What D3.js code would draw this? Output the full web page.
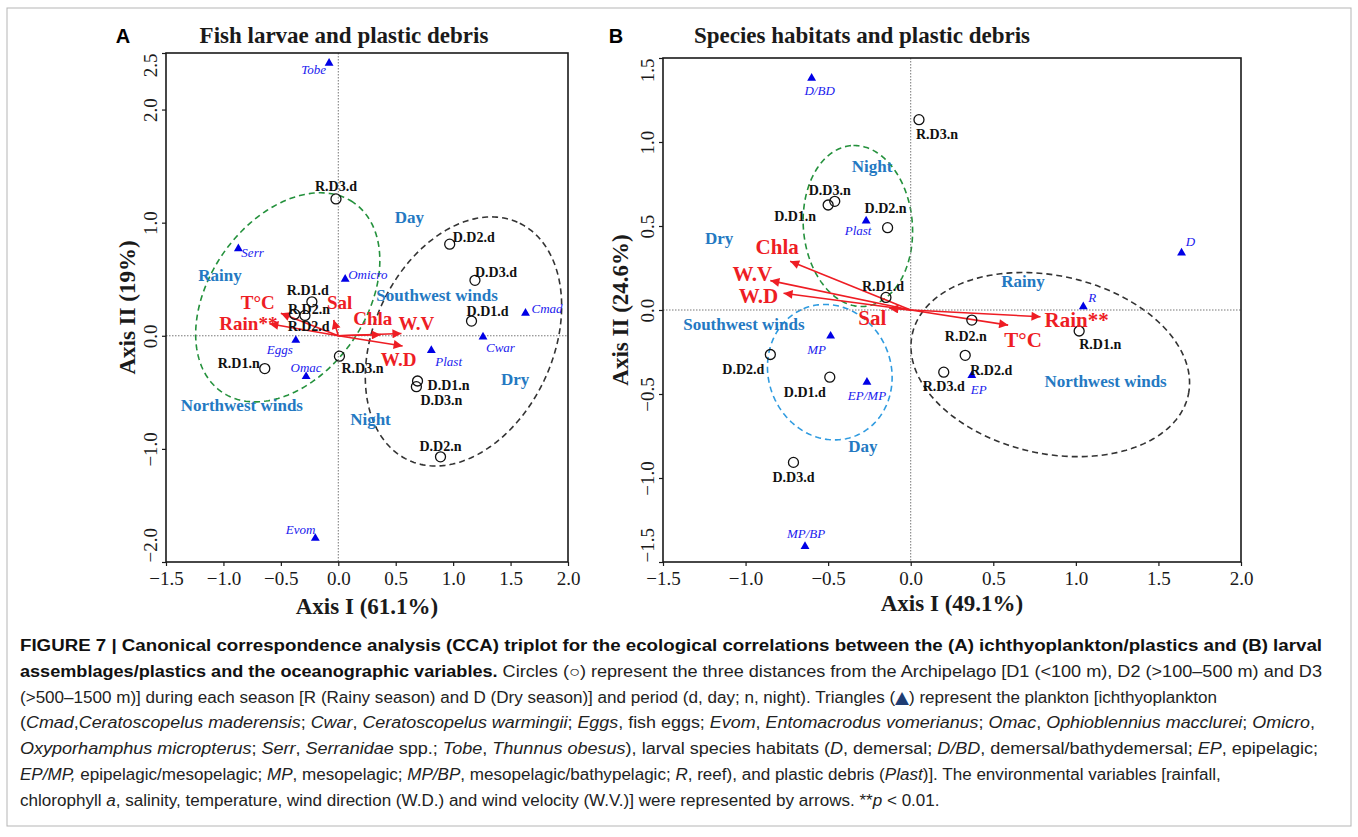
<!DOCTYPE html>
<html>
<head>
<meta charset="utf-8">
<script src="https://cdn.jsdelivr.net/npm/d3@7"></script>
<style>
  body { margin: 0; background: #fff; }
</style>
</head>
<body>
<svg id="fig" width="1358" height="837"></svg>
<script>
// ---- data (CCA scores) ----
const sitesA = [
  { name: 'R.D3.d', x: -0.02, y: 1.21 },
  { name: 'R.D1.d', x: -0.23, y: 0.30 },
  { name: 'R.D2.n', x: -0.29, y: 0.18 },
  { name: 'R.D2.d', x: -0.38, y: 0.19 },
  { name: 'R.D1.n', x: -0.64, y: -0.29 },
  { name: 'R.D3.n', x: 0.01, y: -0.18 },
  { name: 'D.D2.d', x: 0.97, y: 0.81 },
  { name: 'D.D3.d', x: 1.19, y: 0.49 },
  { name: 'D.D1.d', x: 1.16, y: 0.13 },
  { name: 'D.D1.n', x: 0.69, y: -0.40 },
  { name: 'D.D3.n', x: 0.68, y: -0.45 },
  { name: 'D.D2.n', x: 0.89, y: -1.07 }
];
const speciesA = [
  { name: 'Tobe', x: -0.08, y: 2.41 },
  { name: 'Serr', x: -0.87, y: 0.77 },
  { name: 'Omicro', x: 0.06, y: 0.50 },
  { name: 'Eggs', x: -0.37, y: -0.04 },
  { name: 'Omac', x: -0.28, y: -0.36 },
  { name: 'Cmad', x: 1.63, y: 0.20 },
  { name: 'Cwar', x: 1.26, y: -0.01 },
  { name: 'Plast', x: 0.81, y: -0.13 },
  { name: 'Evom', x: -0.20, y: -1.79 }
];
const arrowsA = [
  { name: 'T°C', x: -0.50, y: 0.20 },
  { name: 'Rain**', x: -0.60, y: 0.106 },
  { name: 'Sal', x: -0.04, y: 0.14 },
  { name: 'Chla', x: 0.37, y: 0.01 },
  { name: 'W.V', x: 0.55, y: 0.02 },
  { name: 'W.D', x: 0.56, y: -0.09 }
];
const zonesA = [
  { name: 'Day', x: 0.62, y: 1.05 },
  { name: 'Southwest winds', x: 0.86, y: 0.36 },
  { name: 'Dry', x: 1.54, y: -0.38 },
  { name: 'Night', x: 0.28, y: -0.74 },
  { name: 'Rainy', x: -1.03, y: 0.54 },
  { name: 'Northwest winds', x: -0.84, y: -0.61 }
];
const ellipsesA = [
  { kind: 'green', cx: -0.44, cy: 0.34, a: 1.015, b: 0.683, angle: 56 },
  { kind: 'black', cx: 1.09, cy: -0.05, a: 1.154, b: 0.782, angle: 66 }
];

const sitesB = [
  { name: 'R.D3.n', x: 0.05, y: 1.133 },
  { name: 'D.D3.n', x: -0.46, y: 0.647 },
  { name: 'D.D1.n', x: -0.50, y: 0.625 },
  { name: 'D.D2.n', x: -0.14, y: 0.49 },
  { name: 'R.D1.d', x: -0.15, y: 0.075 },
  { name: 'D.D2.d', x: -0.85, y: -0.265 },
  { name: 'D.D1.d', x: -0.49, y: -0.40 },
  { name: 'D.D3.d', x: -0.71, y: -0.907 },
  { name: 'R.D2.n', x: 0.37, y: -0.06 },
  { name: 'R.D1.n', x: 1.02, y: -0.125 },
  { name: 'R.D2.d', x: 0.33, y: -0.27 },
  { name: 'R.D3.d', x: 0.20, y: -0.37 }
];
const speciesB = [
  { name: 'D/BD', x: -0.60, y: 1.38 },
  { name: 'Plast', x: -0.27, y: 0.53 },
  { name: 'MP', x: -0.485, y: -0.155 },
  { name: 'EP/MP', x: -0.265, y: -0.43 },
  { name: 'MP/BP', x: -0.64, y: -1.407 },
  { name: 'D', x: 1.64, y: 0.34 },
  { name: 'R', x: 1.045, y: 0.02 },
  { name: 'EP', x: 0.37, y: -0.39 }
];
const arrowsB = [
  { name: 'Chla', x: -0.73, y: 0.29 },
  { name: 'W.V', x: -0.85, y: 0.175 },
  { name: 'W.D', x: -0.77, y: 0.10 },
  { name: 'Sal', x: -0.13, y: 0.01 },
  { name: 'Rain**', x: 0.786, y: -0.04 },
  { name: 'T°C', x: 0.59, y: -0.09 }
];
const zonesB = [
  { name: 'Night', x: -0.234, y: 0.855 },
  { name: 'Dry', x: -1.16, y: 0.43 },
  { name: 'Southwest winds', x: -1.01, y: -0.083 },
  { name: 'Day', x: -0.29, y: -0.81 },
  { name: 'Rainy', x: 0.68, y: 0.17 },
  { name: 'Northwest winds', x: 1.18, y: -0.42 }
];
const ellipsesB = [
  { kind: 'green', cx: -0.32, cy: 0.50, a: 0.48, b: 0.33, angle: 95 },
  { kind: 'blue', cx: -0.49, cy: -0.37, a: 0.41, b: 0.37, angle: 115 },
  { kind: 'black', cx: 0.845, cy: -0.325, a: 0.855, b: 0.53, angle: -12 }
];

const xTicks = [-1.5, -1.0, -0.5, 0.0, 0.5, 1.0, 1.5, 2.0];
const yTicksA = [2.5, 2.0, 1.0, 0.0, -1.0, -2.0];
const yTicksB = [1.5, 1.0, 0.5, 0.0, -0.5, -1.0, -1.5];

// caption: each line is a list of [text, style] pieces
const captionLines = [
  [['FIGURE 7 | Canonical correspondence analysis (CCA) triplot for the ecological correlations between the (A) ichthyoplankton/plastics and (B) larval', 'b']],
  [['assemblages/plastics and the oceanographic variables.', 'b'], [' Circles (○) represent the three distances from the Archipelago [D1 (<100 m), D2 (>100–500 m) and D3', 'n']],
  [['(>500–1500 m)] during each season [R (Rainy season) and D (Dry season)] and period (d, day; n, night). Triangles (', 'n'], ['▲', 'tri'], [') represent the plankton [ichthyoplankton', 'n']],
  [['(', 'n'], ['Cmad', 'i'], [',', 'n'], ['Ceratoscopelus maderensis', 'i'], ['; ', 'n'], ['Cwar', 'i'], [', ', 'n'], ['Ceratoscopelus warmingii', 'i'], ['; ', 'n'], ['Eggs', 'i'], [', fish eggs; ', 'n'], ['Evom', 'i'], [', ', 'n'], ['Entomacrodus vomerianus', 'i'], ['; ', 'n'], ['Omac', 'i'], [', ', 'n'], ['Ophioblennius macclurei', 'i'], ['; ', 'n'], ['Omicro', 'i'], [',', 'n']],
  [['Oxyporhamphus micropterus', 'i'], ['; ', 'n'], ['Serr', 'i'], [', ', 'n'], ['Serranidae', 'i'], [' spp.; ', 'n'], ['Tobe', 'i'], [', ', 'n'], ['Thunnus obesus', 'i'], ['), larval species habitats (', 'n'], ['D', 'i'], [', demersal; ', 'n'], ['D/BD', 'i'], [', demersal/bathydemersal; ', 'n'], ['EP', 'i'], [', epipelagic;', 'n']],
  [['EP/MP,', 'i'], [' epipelagic/mesopelagic; ', 'n'], ['MP', 'i'], [', mesopelagic; ', 'n'], ['MP/BP', 'i'], [', mesopelagic/bathypelagic; ', 'n'], ['R', 'i'], [', reef), and plastic debris (', 'n'], ['Plast', 'i'], [')]. The environmental variables [rainfall,', 'n']],
  [['chlorophyll ', 'n'], ['a', 'i'], [', salinity, temperature, wind direction (W.D.) and wind velocity (W.V.)] were represented by arrows. **', 'n'], ['p', 'i'], [' < 0.01.', 'n']]
];
// line widths seen in the reference (null: same squeeze as line 3)
const captionWidths = [1302, 1302, 1197, 1295, 1298, null, null];

// ---- label placement: [anchor, dx, dy] in px from the mark ----
const placeA = {
  'R.D3.d': ['middle', 0, -8], 'R.D1.d': ['middle', -4, -7], 'R.D2.n': ['middle', 4, -1],
  'R.D2.d': ['middle', 14, 17], 'R.D1.n': ['end', -5, -1], 'R.D3.n': ['start', 2, 17],
  'D.D2.d': ['start', 3, -2], 'D.D3.d': ['start', 0, -3], 'D.D1.d': ['start', -5, -5],
  'D.D1.n': ['start', 10, 8.5], 'D.D3.n': ['start', 4, 18], 'D.D2.n': ['middle', 0, -6],
  'Tobe': ['end', -3, 11], 'Serr': ['start', 3, 8], 'Omicro': ['start', 3, 0],
  'Eggs': ['end', -3, 13.5], 'Omac': ['middle', 0, -4], 'Cmad': ['start', 6, 0],
  'Cwar': ['start', 3, 15.5], 'Plast': ['start', 4, 16], 'Evom': ['end', 0, -4],
  'T°C': ['middle', -23, -4], 'Rain**': ['middle', -21, 6.5], 'Sal': ['middle', 6, -11],
  'Chla': ['middle', -8, -10], 'W.V': ['middle', 15, -4], 'W.D': ['middle', -4, 20.5]
};
const placeB = {
  'R.D3.n': ['start', -3, 19.5], 'D.D3.n': ['middle', -5, -6], 'D.D1.n': ['end', -12, 15.5],
  'D.D2.n': ['middle', -2, -15], 'R.D1.d': ['middle', -3, -6], 'D.D2.d': ['end', -6, 19.5],
  'D.D1.d': ['end', -4, 19.5], 'D.D3.d': ['middle', 0, 20], 'R.D2.n': ['middle', -6, 21],
  'R.D1.n': ['start', 0, 17.5], 'R.D2.d': ['start', 5, 19.5], 'R.D3.d': ['middle', 0, 19],
  'D/BD': ['middle', 8, 17], 'Plast': ['middle', -8, 14], 'MP': ['middle', -14, 18],
  'EP/MP': ['middle', 0, 18], 'MP/BP': ['middle', 1, -8], 'D': ['middle', 9, -7],
  'R': ['middle', 9, -4.5], 'EP': ['middle', 7, 18],
  'Chla': ['middle', -13, -7], 'W.V': ['middle', -18, 0], 'W.D': ['middle', -25, 10],
  'Sal': ['middle', -17, 17], 'Rain**': ['start', 4, 10], 'T°C': ['middle', 15, 22]
};

const SERIF = '"Liberation Serif","Times New Roman",serif';
const SANS = '"Liberation Sans",Arial,sans-serif';
const RED = '#ee1d24';
const ZONE_BLUE = '#2479c2';
const SP_BLUE = '#2020ee';
const ellipseColor = { green: '#24913c', black: '#333333', blue: '#2f9be0' };

const svg = d3.select('#fig');

// outer figure frame
svg.append('rect')
  .attr('x', 7).attr('y', 8).attr('width', 1344).attr('height', 818)
  .attr('fill', 'none').attr('stroke', '#b5b5b5').attr('stroke-width', 1);

svg.append('defs').append('marker')
  .attr('id', 'arrowhead')
  .attr('viewBox', '0 -5 10 10')
  .attr('refX', 10).attr('refY', 0)
  .attr('markerUnits', 'userSpaceOnUse')
  .attr('markerWidth', 13).attr('markerHeight', 9)
  .attr('orient', 'auto')
  .append('path').attr('d', 'M0,-5L10,0L0,5Z').attr('fill', RED);

function drawPanel(p) {
  const g = svg.append('g');
  const x = d3.scaleLinear().domain([-1.5, 2.0]).range([p.left, p.right]);
  const y = d3.scaleLinear().domain(p.yDomain).range([p.bottom, p.top]);

  // dashed group ellipses
  const ellLine = d3.line().x(d => x(d[0])).y(d => y(d[1])).curve(d3.curveLinearClosed);
  p.ellipses.forEach(e => {
    const th = e.angle * Math.PI / 180;
    const pts = d3.range(0, 2 * Math.PI, Math.PI / 120).map(t => [
      e.cx + e.a * Math.cos(t) * Math.cos(th) - e.b * Math.sin(t) * Math.sin(th),
      e.cy + e.a * Math.cos(t) * Math.sin(th) + e.b * Math.sin(t) * Math.cos(th)
    ]);
    g.append('path')
      .attr('d', ellLine(pts))
      .attr('fill', 'none')
      .attr('stroke', ellipseColor[e.kind])
      .attr('stroke-width', 1.6)
      .attr('stroke-dasharray', '6,4');
  });

  // dotted zero lines
  g.append('line')
    .attr('x1', x(0)).attr('x2', x(0)).attr('y1', p.top).attr('y2', p.bottom)
    .attr('stroke', '#777').attr('stroke-width', 1).attr('stroke-dasharray', '1.5,1.5');
  g.append('line')
    .attr('x1', p.left).attr('x2', p.right).attr('y1', y(0)).attr('y2', y(0))
    .attr('stroke', '#777').attr('stroke-width', 1).attr('stroke-dasharray', '1.5,1.5');

  // environmental arrows
  g.selectAll(null).data(p.arrows).enter().append('line')
    .attr('x1', x(0)).attr('y1', y(0))
    .attr('x2', d => x(d.x)).attr('y2', d => y(d.y))
    .attr('stroke', RED).attr('stroke-width', 1.6)
    .attr('marker-end', 'url(#arrowhead)');

  // sampling sites (circles)
  g.selectAll(null).data(p.sites).enter().append('circle')
    .attr('cx', d => x(d.x)).attr('cy', d => y(d.y)).attr('r', 5)
    .attr('fill', 'none').attr('stroke', '#111').attr('stroke-width', 1.3);

  // species / habitats (triangles)
  g.selectAll(null).data(p.species).enter().append('path')
    .attr('d', d3.symbol(d3.symbolTriangle).size(34))
    .attr('transform', d => `translate(${x(d.x)},${y(d.y)})`)
    .attr('fill', '#0000e6');

  const label = (items, font) => {
    g.selectAll(null).data(items).enter().append('text')
      .attr('x', d => x(d.x) + p.place[d.name][1])
      .attr('y', d => y(d.y) + p.place[d.name][2])
      .attr('text-anchor', d => p.place[d.name][0])
      .attr('font-family', SERIF)
      .attr('font-size', font.size)
      .attr('font-weight', font.weight || 'normal')
      .attr('font-style', font.style || 'normal')
      .attr('fill', font.color)
      .text(d => d.name);
  };
  label(p.sites, { size: 14, weight: 'bold', color: '#111' });
  label(p.species, { size: 13, style: 'italic', color: SP_BLUE });
  label(p.arrows, { size: p.arrowFont, weight: 'bold', color: RED });

  // season / period / wind annotations
  g.selectAll(null).data(p.zones).enter().append('text')
    .attr('x', d => x(d.x)).attr('y', d => y(d.y) + 6)
    .attr('text-anchor', 'middle')
    .attr('font-family', SERIF).attr('font-size', 17).attr('font-weight', 'bold')
    .attr('fill', ZONE_BLUE)
    .text(d => d.name);

  // frame
  g.append('rect')
    .attr('x', p.left).attr('y', p.top)
    .attr('width', p.right - p.left).attr('height', p.bottom - p.top)
    .attr('fill', 'none').attr('stroke', '#1a1a1a').attr('stroke-width', 1.6);

  // axes
  const xa = g.append('g')
    .attr('transform', `translate(0,${p.bottom})`)
    .call(d3.axisBottom(x).tickValues(xTicks).tickSize(4).tickSizeOuter(0).tickPadding(6).tickFormat(d3.format('.1f')));
  const ya = g.append('g')
    .attr('transform', `translate(${p.left},0)`)
    .call(d3.axisLeft(y).tickValues(p.yTicks).tickSize(4).tickSizeOuter(0).tickFormat(d3.format('.1f')));
  [xa, ya].forEach(a => {
    a.select('.domain').remove();
    a.selectAll('line').attr('stroke', '#1a1a1a').attr('stroke-width', 1.2);
    a.selectAll('text')
      .attr('font-family', SERIF).attr('font-size', 19).attr('fill', '#1a1a1a');
  });
  // rotated y labels; the end ones are pushed inside the axis range
  const yMax = d3.max(p.yTicks), yMin = d3.min(p.yTicks);
  ya.selectAll('text')
    .attr('transform', 'rotate(-90)')
    .attr('x', 0).attr('y', -9).attr('dy', 0)
    .attr('text-anchor', d => d === yMax ? 'end' : d === yMin ? 'start' : 'middle');

  // titles
  svg.append('text')
    .attr('x', p.letterX).attr('y', 43)
    .attr('text-anchor', 'middle')
    .attr('font-family', SANS).attr('font-size', 20).attr('font-weight', 'bold')
    .text(p.letter);
  svg.append('text')
    .attr('x', p.titleX).attr('y', 43)
    .attr('text-anchor', 'middle')
    .attr('font-family', SERIF).attr('font-size', 23).attr('font-weight', 'bold')
    .attr('fill', '#1a1a1a')
    .text(p.title);
  svg.append('text')
    .attr('x', (p.left + p.right) / 2).attr('y', p.xTitleY)
    .attr('text-anchor', 'middle')
    .attr('font-family', SERIF).attr('font-size', 23).attr('font-weight', 'bold')
    .attr('fill', '#1a1a1a')
    .text(p.xTitle);
  svg.append('text')
    .attr('transform', `translate(${p.yTitleX},${(p.top + p.bottom) / 2}) rotate(-90)`)
    .attr('text-anchor', 'middle')
    .attr('font-family', SERIF).attr('font-size', 23).attr('font-weight', 'bold')
    .attr('fill', '#1a1a1a')
    .text(p.yTitle);
}

drawPanel({
  left: 166, right: 568, top: 53, bottom: 562,
  yDomain: [-2.0, 2.5], yTicks: yTicksA,
  sites: sitesA, species: speciesA, arrows: arrowsA, zones: zonesA, ellipses: ellipsesA,
  place: placeA, arrowFont: 19,
  letter: 'A', letterX: 123, title: 'Fish larvae and plastic debris', titleX: 344,
  xTitle: 'Axis I (61.1%)', xTitleY: 614, yTitle: 'Axis II (19%)', yTitleX: 135
});

drawPanel({
  left: 663, right: 1241, top: 58, bottom: 562,
  yDomain: [-1.5, 1.5], yTicks: yTicksB,
  sites: sitesB, species: speciesB, arrows: arrowsB, zones: zonesB, ellipses: ellipsesB,
  place: placeB, arrowFont: 21,
  letter: 'B', letterX: 616, title: 'Species habitats and plastic debris', titleX: 862,
  xTitle: 'Axis I (49.1%)', xTitleY: 611, yTitle: 'Axis II (24.6%)', yTitleX: 628
});

// ---- caption ----
const CAP = '"Liberation Sans Narrow","Arial Narrow","Liberation Sans",Arial,sans-serif';
const capG = svg.append('g')
  .attr('font-family', CAP).attr('font-size', 16).attr('fill', '#222');
const capNodes = captionLines.map((line, i) => {
  const t = capG.append('text').attr('x', 20).attr('y', 651 + i * 25.8);
  line.forEach(([txt, st]) => {
    const s = t.append('tspan').text(txt);
    if (st === 'b') s.attr('font-weight', 'bold').attr('fill', '#111');
    if (st === 'i') s.attr('font-style', 'italic');
    if (st === 'tri') s.attr('fill', '#1f3d73').attr('font-family', '"DejaVu Sans",sans-serif').attr('font-size', 17);
  });
  return t;
});
// squeeze each line to the width it has in the reference
const natural = capNodes.map(t => t.node().getComputedTextLength());
const regular = captionWidths[2] / natural[2];
capNodes.forEach((t, i) => {
  const w = captionWidths[i] != null ? captionWidths[i] : natural[i] * regular;
  t.attr('textLength', Math.min(w, 1305)).attr('lengthAdjust', 'spacingAndGlyphs');
});
</script>
</body>
</html>
